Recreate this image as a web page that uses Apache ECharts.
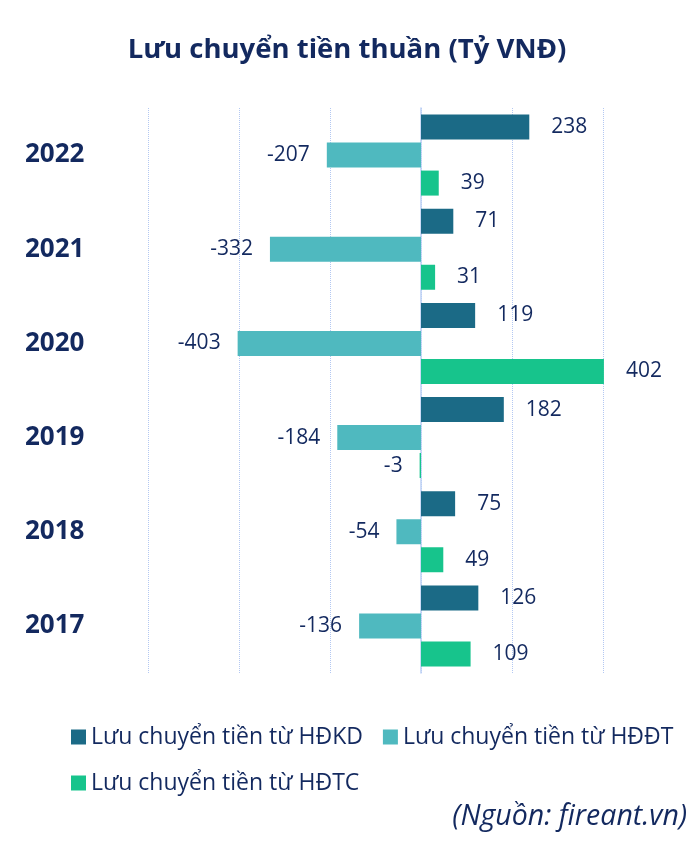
<!DOCTYPE html>
<html>
<head>
<meta charset="utf-8">
<script src="https://cdn.jsdelivr.net/npm/echarts@6/dist/echarts.min.js"></script>
<style>
html,body{margin:0;padding:0;background:#fff;}
#chart{width:694px;height:850px;}
</style>
</head>
<body>
<div id="chart"></div>
<script>
var categories = ['2022', '2021', '2020', '2019', '2018', '2017'];
var seriesNames = ['Lưu chuyển tiền từ HĐKD', 'Lưu chuyển tiền từ HĐĐT', 'Lưu chuyển tiền từ HĐTC'];
var hdkd = [238, 71, 119, 182, 75, 126];
var hddt = [-207, -332, -403, -184, -54, -136];
var hdtc = [39, 31, 402, -3, 49, 109];
var colors = ['#1B6A86', '#4FB9BF', '#17C48C'];
var textColor = '#13295F';
var fontFam = '"Open Sans", "Noto Sans", sans-serif';

function toData(arr) {
  return arr.map(function (v) {
    return {
      value: v,
      label: v < 0 ? { position: 'left', distance: 17 } : { position: 'right', distance: 22 }
    };
  });
}

var allData = [hdkd, hddt, hdtc];
var series = allData.map(function (arr, i) {
  return {
    name: seriesNames[i],
    type: 'bar',
    barWidth: 25,
    barGap: '12%',
    itemStyle: { color: colors[i] },
    label: {
      show: true,
      color: textColor,
      fontSize: 21,
      fontFamily: fontFam
    },
    data: toData(arr)
  };
});

var chart = echarts.init(document.getElementById('chart'));
chart.setOption({
  backgroundColor: '#fff',
  animation: false,
  title: {
    text: 'Lưu chuyển tiền thuần (Tỷ VNĐ)',
    left: 'center',
    top: 31,
    textStyle: { color: textColor, fontSize: 27.5, fontWeight: 'bold', fontFamily: fontFam }
  },
  graphic: [{
    type: 'text',
    right: 7,
    top: 802,
    style: {
      text: '(Nguồn: fireant.vn)',
      fill: textColor,
      font: 'italic 28.5px "Open Sans", "Noto Sans", sans-serif'
    }
  }],
  legend: {
    data: seriesNames,
    left: 66,
    top: 719,
    width: 628,
    itemWidth: 15,
    itemHeight: 15,
    itemGap: 20,
    icon: 'rect',
    textStyle: { color: textColor, fontSize: 23, fontFamily: fontFam, lineHeight: 26 }
  },
  grid: { left: 148, right: 0, top: 108, bottom: 177, containLabel: false },
  xAxis: {
    type: 'value',
    min: -600,
    max: 600,
    interval: 200,
    axisLabel: { show: false },
    axisLine: { show: false },
    axisTick: { show: false },
    splitLine: { show: true, lineStyle: { color: '#B3C8F2', type: 'dotted', width: 1 } }
  },
  yAxis: {
    type: 'category',
    inverse: true,
    data: categories,
    axisTick: { show: false },
    axisLine: { show: true, onZero: true, lineStyle: { color: '#BCD0F5', width: 1.5 } },
    axisLabel: {
      color: textColor,
      fontSize: 26,
      fontWeight: 'bold',
      fontFamily: fontFam,
      align: 'left',
      margin: 123,
      padding: [4, 0, 0, 0]
    }
  },
  series: series
});
</script>
</body>
</html>
